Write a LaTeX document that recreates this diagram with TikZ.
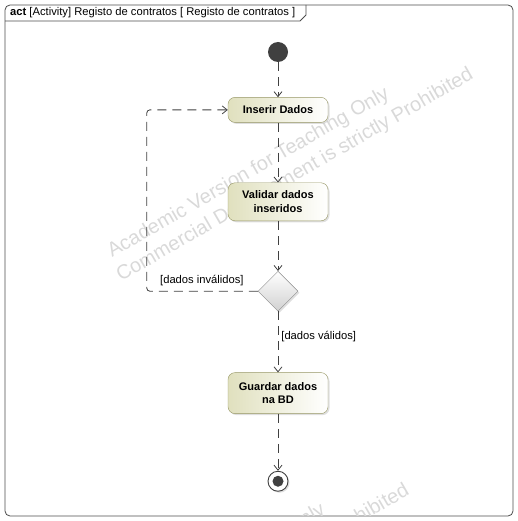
\documentclass[tikz,border=0pt]{standalone}
\usepackage{fontspec}
\setmainfont{Liberation Sans}
\usepackage{xcolor}
\usetikzlibrary{
    shapes.geometric,
    positioning,
    shadows,
    arrows.meta
}
\definecolor{actleft}{RGB}{224,224,190}
\definecolor{actborder}{RGB}{150,150,100}
\definecolor{lineclr}{RGB}{64,64,64}
\tikzset{
  basic/.style = {
      draw,
      font=\fontsize{11}{13.5}\selectfont\bfseries,
      align=center
  },
  action/.style = {
      basic,
      draw=actborder,
      rectangle,
      rounded corners=7pt,
      left color=actleft,
      right color=white,
      minimum width=100pt,
      minimum height=25pt,
      inner sep=2pt,
      drop shadow={shadow xshift=1.5pt, shadow yshift=-1.5pt, fill=black!25}
  },
  decision/.style = {
      draw=black!45,
      diamond,
      top color=white,
      bottom color=black!18,
      minimum size=40pt,
      inner sep=0pt,
      drop shadow={shadow xshift=1.5pt, shadow yshift=-1.5pt, fill=black!25}
  },
  initial/.style = {
      circle,
      fill=lineclr,
      minimum size=20pt,
      inner sep=0pt
  },
  final/.style = {
      circle,
      draw=lineclr,
      line width=0.9pt,
      fill=white,
      minimum size=20pt,
      inner sep=0pt,
      drop shadow={shadow xshift=1.5pt, shadow yshift=-1.5pt, fill=black!25},
      path picture={\fill[lineclr] (path picture bounding box.center) circle (5.5pt);}
  },
  flow/.style = {
      draw=lineclr,
      line width=0.8pt,
      dash pattern=on 9pt off 6pt,
      -{Straight Barb[length=5pt, width=8pt]}
  },
  guard/.style = {
      font=\fontsize{11.2}{13.5}\selectfont,
      inner sep=1pt
  },
  watermark/.style = {
      font=\fontsize{20}{23}\selectfont,
      text=black!15,
      rotate=30,
      anchor=base west,
      inner sep=0pt
  },
  frame/.style = {
      draw=black!70,
      line width=0.8pt
  }
}

\begin{document}
\begin{tikzpicture}[x=1pt, y=-1pt]
        \useasboundingbox (0,0) rectangle (518,521);
        % Frame
        \draw[frame, rounded corners=5pt] (5,5) rectangle (513,516);
        \draw[frame] (5,21) -- (300,21) -- (306,15) -- (306,5);
        \node[guard, anchor=west] (title) at (9,13)
            {\textbf{act} [Activity] Registo de contratos [ Registo de contratos ]};
        % Watermark
        \begin{scope}
            \clip (6,22) rectangle (512,515);
            \node[watermark] (wm1) at (112,258) {Academic Version for Teaching Only};
            \node[watermark] (wm2) at (121,282) {Commercial Development is strictly Prohibited};
            \node[watermark] (wm3) at (48,674) {Academic Version for Teaching Only};
            \node[watermark] (wm4) at (57,698) {Commercial Development is strictly Prohibited};
        \end{scope}
        % Nodes
        \node[initial] (start) at (278,52) {};
        \node[action, below=35pt of start] (inserir) {Inserir Dados};
        \node[action, below=60pt of inserir, minimum height=38pt] (validar) {Validar dados\\inseridos};
        \node[decision, below=50pt of validar] (check) {};
        \node[action, below=61pt of check, minimum height=41pt] (guardar) {Guardar dados\\na BD};
        \node[final, below=57pt of guardar] (end) {};
        % Label
        \node[guard, anchor=south east] (invalid) at ([xshift=-13pt, yshift=4pt]check.west) {[dados inválidos]};
        % Edges
        \draw[flow] (start) -- (inserir);
        \draw[flow] (inserir) -- (validar);
        \draw[flow] (validar) -- (check);
        \draw[flow] (check) -- node[guard, right, pos=0.41, xshift=2pt] (valid) {[dados válidos]} (guardar);
        \draw[flow] (guardar) -- (end);
        \draw[flow, rounded corners=3pt] (check.west) -- ++(-111,0) |- (inserir.west);
    \end{tikzpicture}
\end{document}
